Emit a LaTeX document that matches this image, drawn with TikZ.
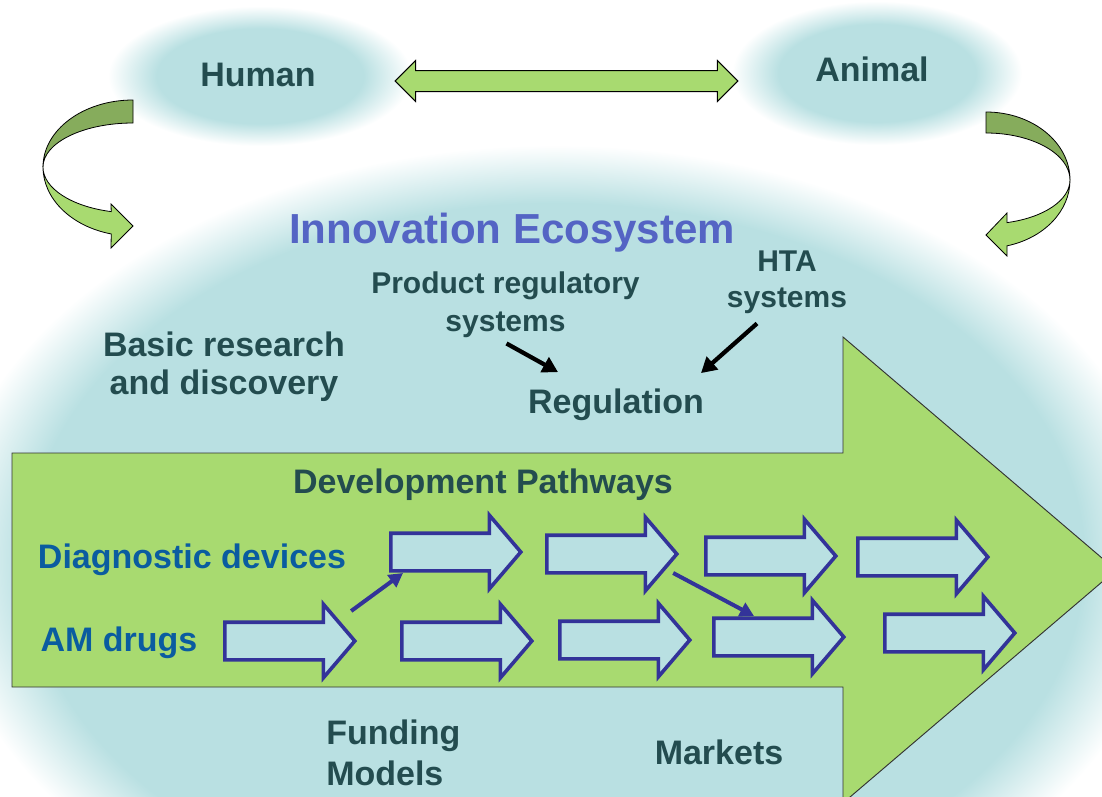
\documentclass[tikz,border=0pt]{standalone}
\usepackage{fontspec}
\setmainfont{Liberation Sans}
\usetikzlibrary{shapes.arrows,arrows.meta,calc}
\definecolor{eco}{RGB}{185,224,226}
\definecolor{txt}{RGB}{35,76,79}
\definecolor{innov}{RGB}{84,100,196}
\definecolor{dtxt}{RGB}{10,92,160}
\definecolor{grn}{RGB}{168,218,112}
\definecolor{dgrn}{RGB}{134,172,92}
\definecolor{navy}{RGB}{51,51,153}
\pgfdeclareradialshading{bigsoft}{\pgfpointorigin}{color(0bp)=(eco); color(21.5bp)=(eco); color(25bp)=(white); color(50bp)=(white)}
\pgfdeclareradialshading{smallsoft}{\pgfpointorigin}{color(0bp)=(eco); color(17bp)=(eco); color(25bp)=(white); color(50bp)=(white)}
\tikzset{
  lbl/.style={font=\bfseries\fontsize{25.5}{30}\selectfont, text=txt, anchor=base, inner sep=0pt},
  sml/.style={font=\bfseries\fontsize{22.5}{27}\selectfont, text=txt, anchor=base, inner sep=0pt},
  rowlbl/.style={font=\bfseries\fontsize{25.5}{30}\selectfont, text=dtxt, anchor=base, inner sep=0pt},
  blkarrow/.style={single arrow, draw=navy, fill=eco, line width=2.7pt,
    minimum height=97.5pt, single arrow head extend=13.5pt, single arrow tip angle=99,
    single arrow head indent=0pt, inner xsep=0pt, inner ysep=12.75pt,
    text height=0pt, text depth=0pt, minimum width=0pt, anchor=tail},
  linkarrow/.style={double arrow, draw=black, fill=grn, line width=0.75pt,
    minimum height=257pt, double arrow head extend=7.5pt, double arrow tip angle=90,
    double arrow head indent=0pt, inner xsep=0pt, inner ysep=7.5pt,
    text height=0pt, text depth=0pt, minimum width=0pt},
  conn/.style={draw=navy, line width=3pt, -{Triangle[length=10.5pt,width=11pt]}},
  blackconn/.style={draw=black, line width=3.2pt, -{Triangle[length=11.5pt,width=12.5pt]}},
  ribbon/.style={draw=black, line width=0.6pt},
}
\begin{document}
\begin{tikzpicture}[x=0.75pt,y=-0.75pt]
\useasboundingbox (0,0) rectangle (1102,796);
\clip (0,0) rectangle (1102,796);
\fill[white] (0,0) rectangle (1102,796);
% soft ellipses
\shade[shading=bigsoft] (555,560) ellipse [x radius=615, y radius=415];
\shade[shading=smallsoft] (260,76) ellipse [x radius=152, y radius=70];
\shade[shading=smallsoft] (877,73) ellipse [x radius=145, y radius=72];
% left curved arrow
\filldraw[ribbon, fill=dgrn] (133,100) arc[start angle=270, end angle=180, x radius=90, y radius=67]
  arc[start angle=180, end angle=270, x radius=90, y radius=44] -- cycle;
\filldraw[ribbon, fill=grn] (43,167) arc[start angle=180, end angle=104, x radius=90, y radius=69]
  -- (111,248) -- (133,226) -- (111,204) -- (111.2,211.6)
  arc[start angle=104, end angle=180, x radius=90, y radius=46] -- cycle;
% right curved arrow
\filldraw[ribbon, fill=dgrn] (986,112) arc[start angle=-90, end angle=0, x radius=84, y radius=68]
  arc[start angle=0, end angle=-90, x radius=84, y radius=47] -- cycle;
\filldraw[ribbon, fill=grn] (1070,180) arc[start angle=0, end angle=75.5, x radius=84, y radius=68]
  -- (1007,256) -- (986,235) -- (1007,213) -- (1007,222.6)
  arc[start angle=75.5, end angle=0, x radius=84, y radius=44] -- cycle;
% top labels and link
\node[lbl] (human) at (258,86) {Human};
\node[lbl] (animal) at (872,81) {Animal};
\node[linkarrow] (link) at (566.5,81) {};
% big green arrow
\filldraw[fill=grn, draw=black!80, line width=0.7pt] (12,453) -- (843,453) -- (843,337) -- (1116,570)
  -- (843,803) -- (843,687) -- (12,687) -- cycle;
% ecosystem texts
\node[anchor=base, inner sep=0pt, font=\bfseries\fontsize{31.5}{36}\selectfont, text=innov] (title) at (512,243) {Innovation Ecosystem};
\node[sml] (prs1) at (505.5,293) {Product regulatory};
\node[sml] (prs2) at (505.5,331) {systems};
\node[sml] (hta1) at (787,271) {HTA};
\node[sml] (hta2) at (787,307) {systems};
\node[lbl] (reg) at (616,413) {Regulation};
\node[lbl] (basic1) at (224,356) {Basic research};
\node[lbl] (basic2) at (224,394) {and discovery};
\node[lbl] (devp) at (483,493) {Development Pathways};
\node[rowlbl] (diag) at (192,568) {Diagnostic devices};
\node[rowlbl] (amd) at (119,651) {AM drugs};
\node[lbl, anchor=base west] (fund1) at (326,744) {Funding};
\node[lbl, anchor=base west] (fund2) at (326,785) {Models};
\node[lbl] (mkt) at (719,764) {Markets};
% regulation arrows
\draw[blackconn] ($(prs2.south)+(1,6)$) -- ($(reg.north)+(-58,-16)$);
\draw[blackconn] ($(hta2.south)+(-30,10)$) -- ($(reg.north)+(85,-15)$);
% pathway block arrows
\node[blkarrow] (a1) at (389,552) {};
\node[blkarrow] (a2) at (545,554) {};
\node[blkarrow] (a3) at (704,556) {};
\node[blkarrow] (a4) at (856,557) {};
\node[blkarrow] (b1) at (223,641) {};
\node[blkarrow] (b2) at (400,641) {};
\node[blkarrow] (b3) at (558,640) {};
\node[blkarrow] (b4) at (712,637) {};
\node[blkarrow] (b5) at (883,633) {};
% crossing connectors
\draw[conn] ($(b1.tip)+(-6,-30)$) -- ($(a1.tail)+(14,21)$);
\draw[conn] ($(a2.tip)+(-6,19)$) -- ($(b4.tail)+(42,-21)$);
\end{tikzpicture}
\end{document}
